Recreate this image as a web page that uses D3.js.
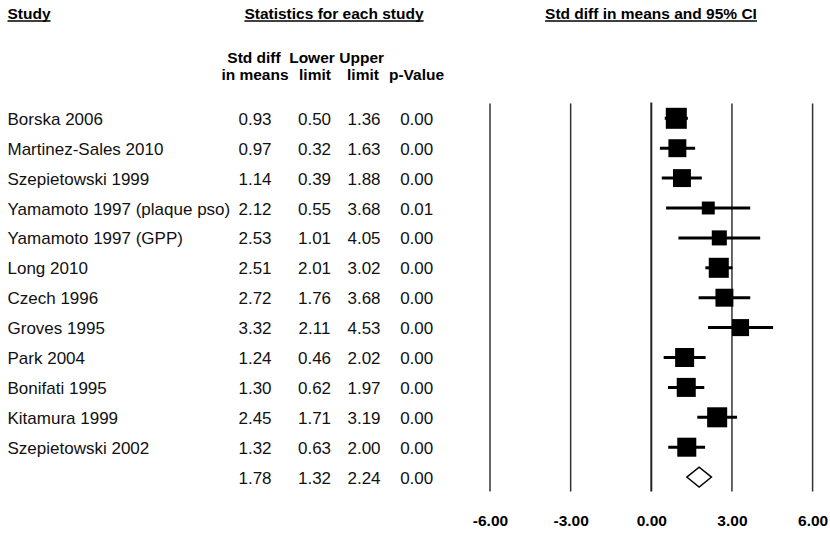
<!DOCTYPE html>
<html>
<head>
<meta charset="utf-8">
<script src="https://cdn.jsdelivr.net/npm/d3@7"></script>
<style>
html,body{margin:0;padding:0;background:#fff;}
svg{display:block;font-family:"Liberation Sans",Arial,sans-serif;}
</style>
</head>
<body>
<svg id="chart" width="830" height="535"></svg>
<script>
const studies = ["Borska 2006","Martinez-Sales 2010","Szepietowski 1999","Yamamoto 1997 (plaque pso)","Yamamoto 1997 (GPP)","Long 2010","Czech 1996","Groves 1995","Park 2004","Bonifati 1995","Kitamura 1999","Szepietowski 2002"];
const stdDiff = [0.93,0.97,1.14,2.12,2.53,2.51,2.72,3.32,1.24,1.30,2.45,1.32];
const lower   = [0.50,0.32,0.39,0.55,1.01,2.01,1.76,2.11,0.46,0.62,1.71,0.63];
const upper   = [1.36,1.63,1.88,3.68,4.05,3.02,3.68,4.53,2.02,1.97,3.19,2.00];
const pValue  = [0.00,0.00,0.00,0.01,0.00,0.00,0.00,0.00,0.00,0.00,0.00,0.00];
const weights = [11.1,8.1,8.1,4.2,5.7,10.1,8.1,7.3,9.1,9.1,10.1,9.1];
const summary = {est:1.78, lower:1.32, upper:2.24, p:0.00};
const tickValues = [-6,-3,0,3,6];

const svg = d3.select("#chart");
const fmt = v => v.toFixed(2);

const x = d3.scaleLinear().domain([-6,6]).range([490,812.6]);
const y = d3.scalePoint().domain(d3.range(studies.length+1)).range([118.3,477.1]);
const size = d3.scaleSqrt().domain([0,d3.max(weights)]).range([0,21]);

const cols = [255,314.5,364,416.7];

// headers
function headerText(txt, xp, yp, anchor){
  const t = svg.append("text").attr("x",xp).attr("y",yp).attr("text-anchor",anchor)
    .attr("font-weight","bold").attr("font-size","15.5px").attr("fill","#000").text(txt);
  const w = t.node().getComputedTextLength();
  const x0 = anchor==="middle" ? xp - w/2 : xp;
  svg.append("line").attr("x1",x0).attr("x2",x0+w).attr("y1",yp+2.5).attr("y2",yp+2.5)
    .attr("stroke","#000").attr("stroke-width",1.3);
}
headerText("Study",7.5,18.5,"start");
headerText("Statistics for each study",334,18.5,"middle");
headerText("Std diff in means and 95% CI",651,18.5,"middle");

const sub1 = ["Std diff","Lower","Upper",""];
const sub2 = ["in means","limit","limit","p-Value"];
const subX1 = [254,312,361.7,416.5];
const subX2 = [255,315,363,416.5];
sub1.forEach((s,i)=>{ if(s) svg.append("text").attr("x",subX1[i]).attr("y",63).attr("text-anchor","middle")
  .attr("font-weight","bold").attr("font-size","15.5px").text(s); });
sub2.forEach((s,i)=>svg.append("text").attr("x",subX2[i]).attr("y",80).attr("text-anchor","middle")
  .attr("font-weight","bold").attr("font-size","15.5px").text(s));

// vertical grid lines
svg.append("g").selectAll("line").data(tickValues).join("line")
  .attr("x1",d=>x(d)).attr("x2",d=>x(d))
  .attr("y1",d=>d===0?102.5:103.5).attr("y2",491.5)
  .attr("stroke",d=>d===0?"#222":"#333")
  .attr("stroke-width",d=>d===0?2:1.5);

// axis labels
const axis = d3.axisBottom(x).tickValues(tickValues).tickFormat(fmt).tickSize(0).tickPadding(0);
const ax = svg.append("g").attr("transform","translate(0,515)").call(axis);
ax.select(".domain").remove();
ax.selectAll("text").attr("font-size","15.5px").attr("font-weight","bold")
  .attr("font-family","Liberation Sans, Arial, sans-serif").attr("fill","#000");

// rows text
const rows = svg.append("g");
studies.forEach((s,i)=>{
  const yy = y(i)+6.5;
  rows.append("text").attr("x",7.5).attr("y",yy).attr("font-size","17px").attr("fill","#111").text(s);
  [stdDiff[i],lower[i],upper[i],pValue[i]].forEach((v,j)=>{
    rows.append("text").attr("x",cols[j]).attr("y",yy).attr("text-anchor","middle")
      .attr("font-size","17px").attr("fill","#111").text(fmt(v));
  });
});
{
  const i = studies.length, yy = y(i)+6.5;
  [summary.est,summary.lower,summary.upper,summary.p].forEach((v,j)=>{
    rows.append("text").attr("x",cols[j]).attr("y",yy).attr("text-anchor","middle")
      .attr("font-size","17px").attr("fill","#111").text(fmt(v));
  });
}

// CI lines
const marks = svg.append("g");
marks.selectAll("line.ci").data(studies).join("line").attr("class","ci")
  .attr("x1",(d,i)=>x(lower[i])).attr("x2",(d,i)=>x(upper[i]))
  .attr("y1",(d,i)=>y(i)).attr("y2",(d,i)=>y(i))
  .attr("stroke","#000").attr("stroke-width",3);
marks.selectAll("rect").data(studies).join("rect")
  .attr("x",(d,i)=>x(stdDiff[i])-size(weights[i])/2)
  .attr("y",(d,i)=>y(i)-size(weights[i])/2)
  .attr("width",(d,i)=>size(weights[i]))
  .attr("height",(d,i)=>size(weights[i]))
  .attr("fill","#000");

// summary diamond
const sy = y(studies.length);
const hh = 10;
marks.append("path")
  .attr("d",`M${x(summary.lower)},${sy} L${x(summary.est)},${sy-hh} L${x(summary.upper)},${sy} L${x(summary.est)},${sy+hh} Z`)
  .attr("fill","#fff").attr("stroke","#000").attr("stroke-width",1.4);
</script>
</body>
</html>
